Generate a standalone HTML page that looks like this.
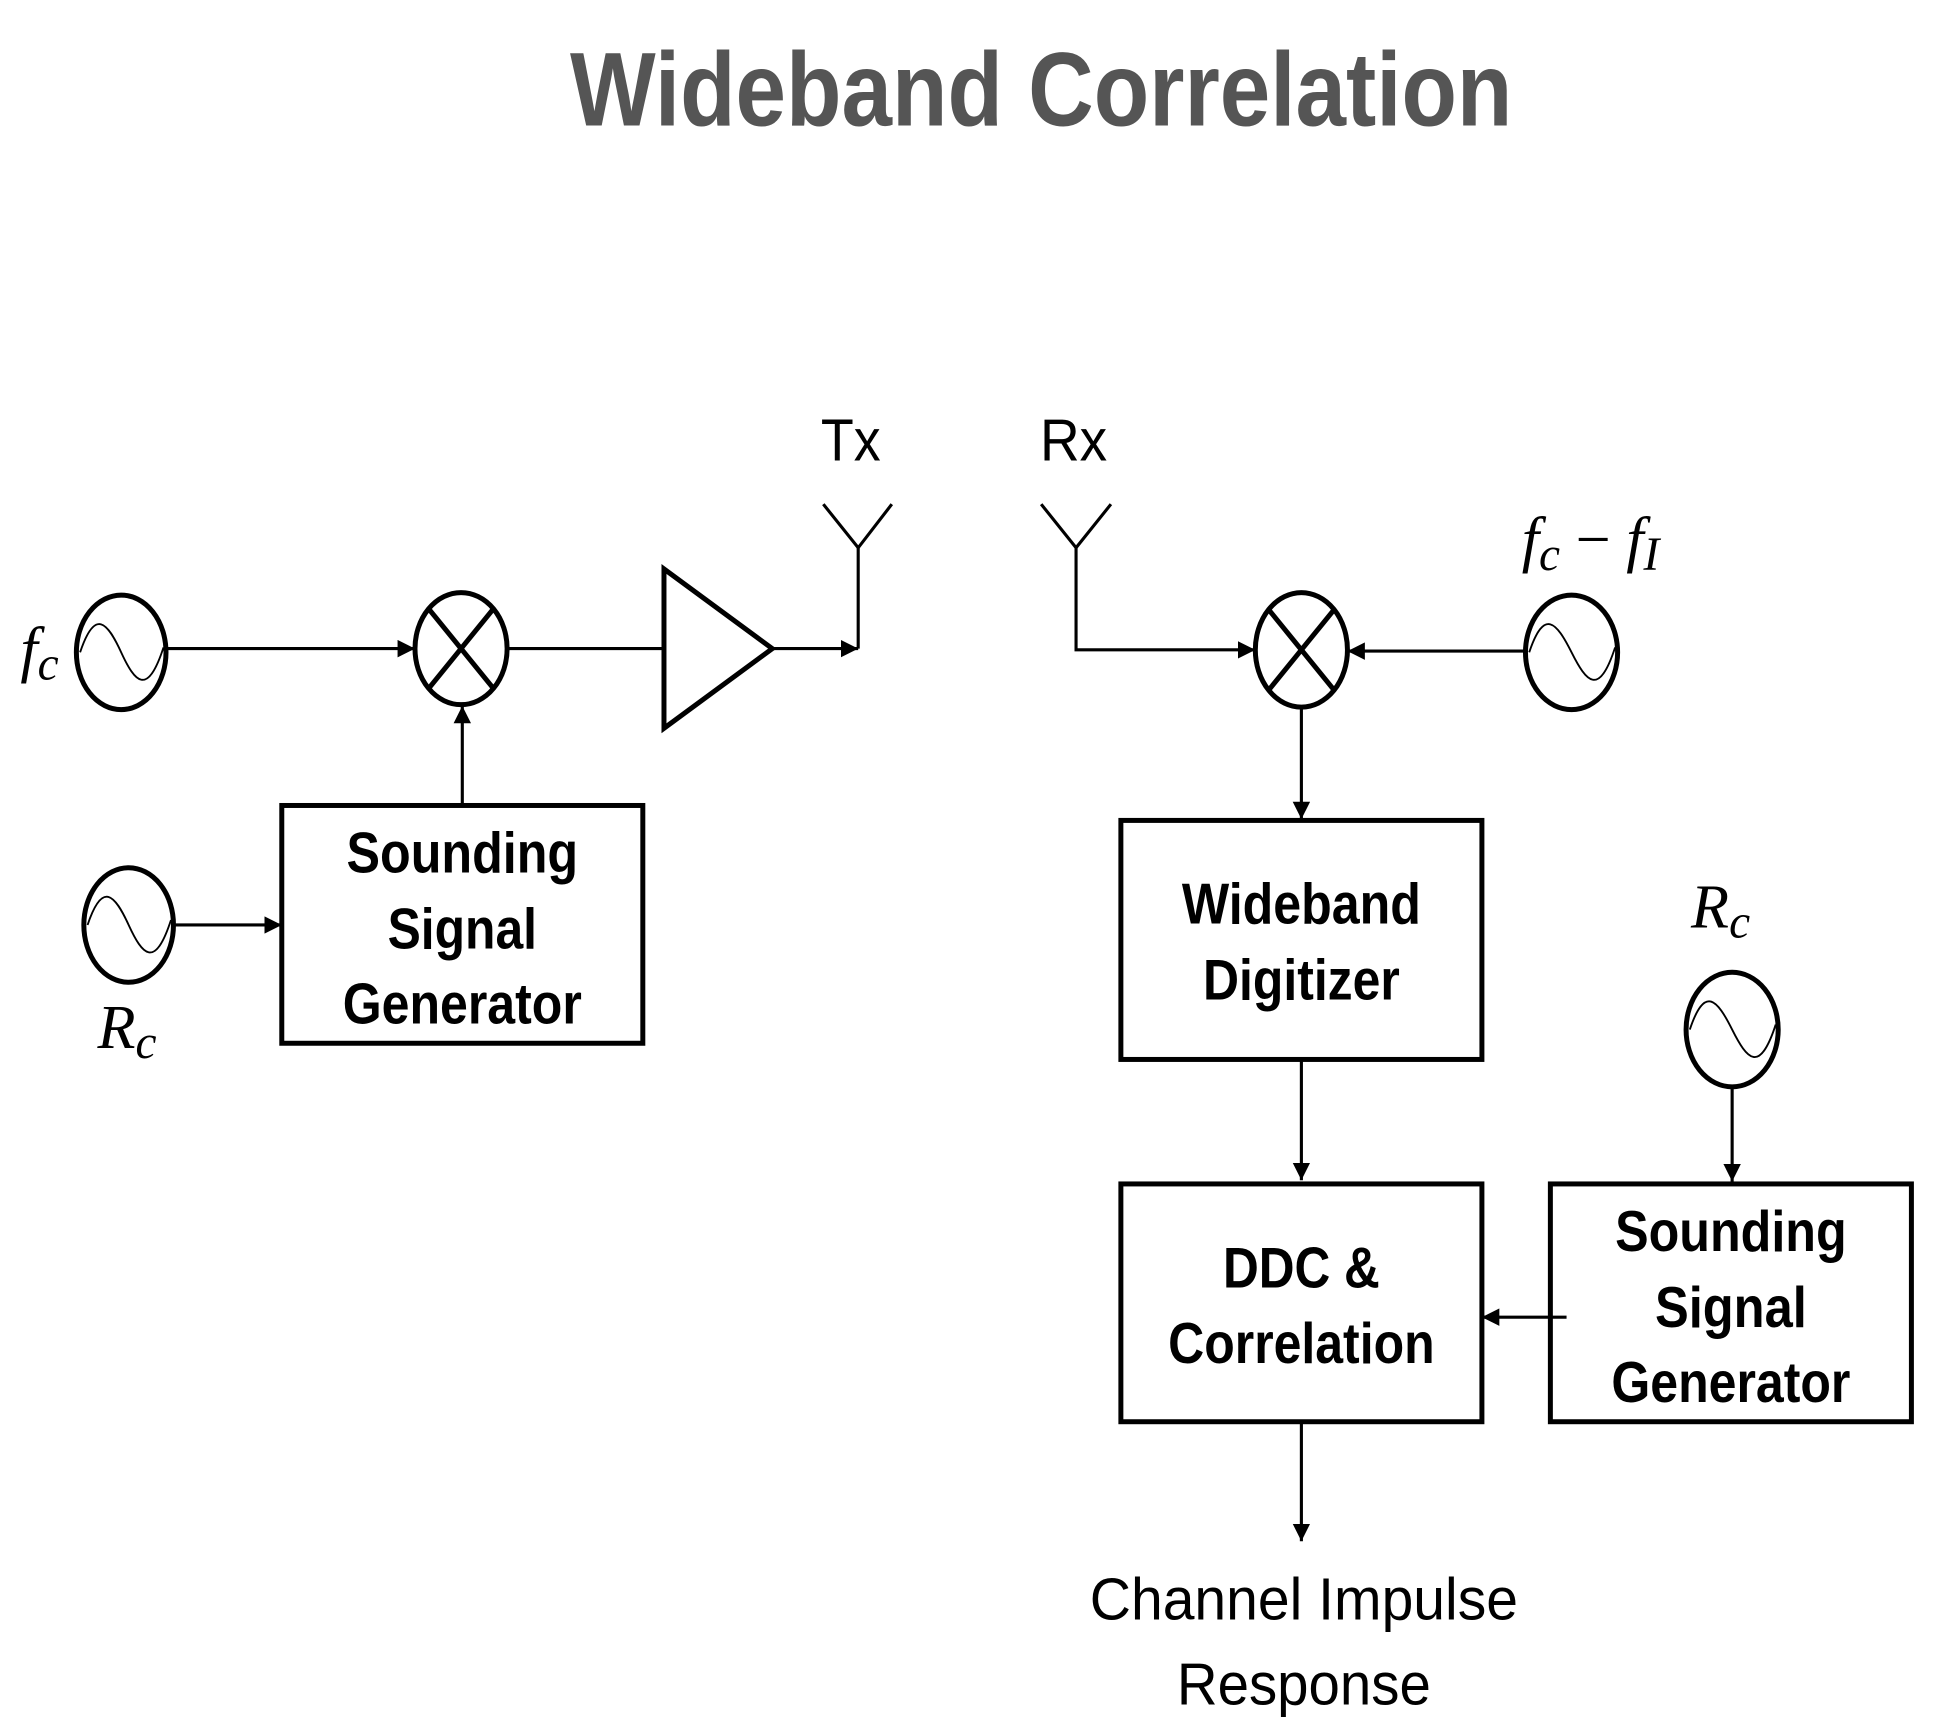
<!DOCTYPE html>
<html><head><style>html,body{margin:0;padding:0;background:#fff}svg{display:block}</style></head>
<body>
<svg width="1933" height="1723" viewBox="0 0 1552 1384" xmlns="http://www.w3.org/2000/svg">
<defs>
<marker id="a" viewBox="0 0 10 10" refX="10" refY="5" markerWidth="7" markerHeight="7" orient="auto" markerUnits="userSpaceOnUse">
<path d="M0,0 L10,5 L0,10 z" fill="#000"/></marker>
<marker id="b" viewBox="0 0 10 10" refX="10" refY="5" markerWidth="14" markerHeight="14" orient="auto" markerUnits="userSpaceOnUse">
<path d="M0,0 L10,5 L0,10 z" fill="#000"/></marker>
</defs>
<g font-family="Liberation Sans, sans-serif">
<text x="836" y="101" font-size="84" font-weight="bold" fill="#555" text-anchor="middle" textLength="757" lengthAdjust="spacingAndGlyphs">Wideband Correlation</text>
</g>
<g fill="none" stroke="#000" stroke-width="4">
<!-- left oscillators -->
<ellipse cx="97" cy="524" rx="36" ry="46"/>
<ellipse cx="103" cy="743" rx="36" ry="46"/>
<!-- left mixer -->
<ellipse cx="370" cy="521" rx="37" ry="45"/>
<line x1="344" y1="489" x2="396" y2="553"/><line x1="396" y1="489" x2="344" y2="553"/>
<polygon points="533,457 533,585 620,521"/>
<rect x="226" y="647" width="290" height="191"/>
<!-- right -->
<ellipse cx="1045" cy="522" rx="37" ry="46"/>
<line x1="1019" y1="490" x2="1071" y2="554"/><line x1="1071" y1="490" x2="1019" y2="554"/>
<ellipse cx="1262" cy="524" rx="37" ry="46"/>
<ellipse cx="1391" cy="827" rx="37" ry="46"/>
<rect x="900" y="659" width="290" height="192"/>
<rect x="900" y="951" width="290" height="191"/>
<rect x="1245" y="951" width="290" height="191"/>
</g>
<g fill="none" stroke="#000" stroke-width="1.5">
<path d="M64,524 C76,488 86,500 97,524 S118,560 131,520"/>
<path d="M70,743 C82,707 92,719 103,743 S124,779 137,739"/>
<path d="M1228,524 C1240,488 1250,500 1262,524 S1284,560 1297,520"/>
<path d="M1357,827 C1369,791 1379,803 1391,827 S1413,863 1426,823"/>
</g>
<g fill="none" stroke="#000" stroke-width="2.5">
<line x1="133" y1="521" x2="333" y2="521" marker-end="url(#b)"/>
<line x1="407" y1="521" x2="533" y2="521"/>
<line x1="620" y1="521" x2="689" y2="521" marker-end="url(#b)"/>
<polyline points="689,521 689,440"/>
<polyline points="661,405 689,440 716,405"/>
<line x1="371" y1="647" x2="371" y2="567" marker-end="url(#b)"/>
<line x1="139" y1="743" x2="226" y2="743" marker-end="url(#b)"/>
<polyline points="836,405 864,440 892,405"/>
<polyline points="864,440 864,522 1008,522" marker-end="url(#b)"/>
<line x1="1225" y1="523" x2="1082" y2="523" marker-end="url(#b)"/>
<line x1="1045" y1="568" x2="1045" y2="658" marker-end="url(#b)"/>
<line x1="1045" y1="851" x2="1045" y2="948" marker-end="url(#b)"/>
<line x1="1391" y1="873" x2="1391" y2="949" marker-end="url(#b)"/>
<line x1="1258" y1="1058" x2="1190" y2="1058" marker-end="url(#b)"/>
<line x1="1045" y1="1142" x2="1045" y2="1238" marker-end="url(#b)"/>
</g>
<g font-family="Liberation Sans, sans-serif" font-weight="bold" font-size="46" text-anchor="middle" fill="#000">
<text x="371" y="701" textLength="186" lengthAdjust="spacingAndGlyphs">Sounding</text>
<text x="371" y="762" textLength="120" lengthAdjust="spacingAndGlyphs">Signal</text>
<text x="371" y="822" textLength="192" lengthAdjust="spacingAndGlyphs">Generator</text>
<text x="1045" y="742" textLength="192" lengthAdjust="spacingAndGlyphs">Wideband</text>
<text x="1045" y="803" textLength="158" lengthAdjust="spacingAndGlyphs">Digitizer</text>
<text x="1045" y="1034" textLength="126" lengthAdjust="spacingAndGlyphs">DDC &amp;</text>
<text x="1045" y="1095" textLength="214" lengthAdjust="spacingAndGlyphs">Correlation</text>
<text x="1390" y="1005" textLength="186" lengthAdjust="spacingAndGlyphs">Sounding</text>
<text x="1390" y="1066" textLength="122" lengthAdjust="spacingAndGlyphs">Signal</text>
<text x="1390" y="1126" textLength="192" lengthAdjust="spacingAndGlyphs">Generator</text>
</g>
<g font-family="Liberation Sans, sans-serif" font-size="48" text-anchor="middle" fill="#000">
<text x="683" y="370" textLength="48" lengthAdjust="spacingAndGlyphs">Tx</text>
<text x="862" y="370" textLength="54" lengthAdjust="spacingAndGlyphs">Rx</text>
<text x="1047" y="1301" textLength="344" lengthAdjust="spacingAndGlyphs">Channel Impulse</text>
<text x="1047" y="1369" textLength="204" lengthAdjust="spacingAndGlyphs">Response</text>
</g>
<g font-family="Liberation Serif, serif" font-style="italic" font-size="50" fill="#000">
<text x="16" y="538">f<tspan font-size="38" dy="8">c</tspan></text>
<text x="78" y="842">R<tspan font-size="38" dy="8">c</tspan></text>
<text x="1358" y="745">R<tspan font-size="38" dy="8">c</tspan></text>
<text x="1222" y="450">f<tspan font-size="38" dy="8">c</tspan><tspan dy="-8" font-style="normal"> − </tspan>f<tspan font-size="38" dy="8">I</tspan></text>
</g>
</svg>
</body></html>
